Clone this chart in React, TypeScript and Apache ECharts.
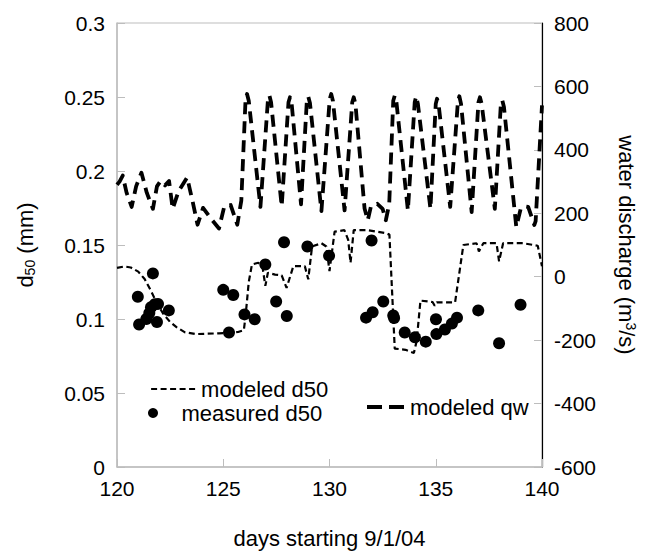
import React, { useEffect, useRef } from "react";
import * as echarts from "echarts";

const FONT = "'Liberation Sans', Arial, Helvetica, sans-serif";

// x-axis ticks (days)
const xTicks = [120, 125, 130, 135, 140];

// modeled water discharge (m3/s)
const qwDays = [
  120.0, 120.12, 120.27, 120.45, 120.69, 120.9, 121.15, 121.4, 121.69, 121.88, 122.05, 122.26, 122.45, 122.62,
  122.9, 123.3, 123.55, 123.79, 124.05, 124.4, 124.8, 125.05, 125.35, 125.66, 125.85,
  126.05, 126.12, 126.2, 126.75, 127.1, 127.17, 127.25, 127.75, 128.07, 128.14, 128.22, 128.66,
  128.93, 129.0, 129.08, 129.62, 130.01, 130.08, 130.16, 130.71, 131.07, 131.14, 131.22,
  131.65, 131.8, 131.95, 132.25, 132.5, 132.65, 132.81,
  133.0, 133.07, 133.15, 133.69, 134.01, 134.08, 134.16, 134.75, 135.0, 135.06, 135.14, 135.68,
  136.04, 136.11, 136.19, 136.69, 137.01, 137.08, 137.16, 137.78, 138.06, 138.13, 138.21,
  138.79, 139.0, 139.18, 139.35, 139.64, 139.7, 140.0,
];
const qwValues = [
  290, 300, 319, 265, 220, 285, 328, 265, 214, 285, 302, 288, 302, 214,
  270, 313, 240, 164, 217, 185, 152, 222, 226, 164, 240,
  560, 576, 555, 220, 555, 572, 550, 222, 550, 566, 545, 228,
  550, 568, 548, 207, 560, 576, 555, 209, 550, 566, 545,
  215, 178, 222, 230, 214, 178, 229,
  555, 571, 550, 209, 550, 569, 545, 214, 545, 561, 540, 220,
  550, 569, 545, 204, 550, 566, 545, 214, 540, 556, 535,
  157, 215, 222, 220, 163, 175, 540,
];

// modeled d50 (mm)
const d50ModDays = [
  120.0, 120.35, 120.65, 121.0, 121.3, 121.6, 121.9, 122.2, 122.5, 122.8, 123.2, 123.7, 124.8, 125.7,
  125.97, 126.05, 126.2, 126.35, 126.65, 126.85, 126.98, 127.1, 127.44, 127.75, 127.98, 128.3,
  128.84, 129.0, 129.18, 129.62, 129.85, 130.0, 130.24, 130.7, 130.88, 130.99, 131.14, 131.8,
  132.65, 132.82, 133.07, 133.58, 133.97, 134.1, 134.28, 134.85, 134.95, 135.05, 135.91, 136.3,
  136.92, 137.03, 137.24, 137.86, 137.98, 138.17, 139.1, 139.8, 140.0,
];
const d50ModValues = [
  0.1345, 0.1355, 0.1348, 0.132, 0.127, 0.119, 0.11, 0.103, 0.098, 0.0945, 0.091, 0.0898, 0.0903, 0.0912,
  0.0925, 0.102, 0.125, 0.1368, 0.138, 0.135, 0.1224, 0.1312, 0.13, 0.1295, 0.121, 0.1357,
  0.1357, 0.1268, 0.149, 0.1512, 0.149, 0.1324, 0.159, 0.16, 0.1535, 0.138, 0.16, 0.16,
  0.158, 0.157, 0.08, 0.0792, 0.077, 0.085, 0.1124, 0.1115, 0.109, 0.1113, 0.1113, 0.15,
  0.1512, 0.1457, 0.1512, 0.1512, 0.139, 0.1512, 0.1512, 0.1495, 0.1357,
];

// measured d50 (mm)
const d50MeasDays = [
  120.98, 121.04, 121.38, 121.52, 121.6, 121.69, 121.78, 121.88, 121.93, 122.44,
  125.0, 125.27, 125.47, 126.0, 126.48, 126.98, 127.49, 127.86, 127.99, 128.96,
  129.98, 131.72, 131.98, 132.03, 132.53, 133.0, 133.04, 133.54, 134.02, 134.53,
  135.01, 135.03, 135.43, 135.76, 136.0, 137.0, 137.98, 138.99,
];
const d50MeasValues = [
  0.115, 0.0963, 0.1, 0.104, 0.108, 0.1308, 0.11, 0.098, 0.1102, 0.1058,
  0.1197, 0.0909, 0.1162, 0.1031, 0.0998, 0.1368, 0.1118, 0.1519, 0.102, 0.149,
  0.1428, 0.1009, 0.153, 0.1046, 0.1118, 0.1024, 0.1006, 0.0909, 0.0876, 0.0847,
  0.0998, 0.0898, 0.0929, 0.0969, 0.1009, 0.1058, 0.0836, 0.1096,
];

const GREY = "#bdbdbd";

export default function App() {
  const ref = useRef<HTMLDivElement>(null);

  useEffect(() => {
    if (!ref.current) return;
    const chart = echarts.init(ref.current, undefined, { renderer: "svg" });
    const labelStyle = { color: "#000", fontSize: 21, fontFamily: FONT };
    const legendText = { color: "#000", fontSize: 22, fontFamily: FONT };
    chart.setOption({
      animation: false,
      backgroundColor: "#fff",
      grid: {
        left: 117,
        right: 100,
        top: 23,
        bottom: 80,
        show: true,
        borderColor: GREY,
        borderWidth: 1,
        containLabel: false,
      },
      xAxis: {
        type: "value",
        min: xTicks[0],
        max: xTicks[xTicks.length - 1],
        interval: 5,
        name: "days starting 9/1/04",
        nameLocation: "middle",
        nameGap: 60,
        nameTextStyle: { color: "#000", fontSize: 22, fontFamily: FONT },
        axisLine: { show: true, lineStyle: { color: GREY, width: 1.5 } },
        axisTick: { show: true, inside: true, length: 8, lineStyle: { color: GREY } },
        axisLabel: { ...labelStyle, margin: 11 },
        splitLine: { show: false },
      },
      yAxis: [
        {
          type: "value",
          min: 0,
          max: 0.3,
          interval: 0.05,
          position: "left",
          name: "{a|d}{s|50}{a| (mm)}",
          nameLocation: "middle",
          nameGap: 80,
          nameTextStyle: {
            color: "#000",
            fontFamily: FONT,
            rich: {
              a: { fontSize: 22, fontFamily: FONT, color: "#000" },
              s: { fontSize: 14, fontFamily: FONT, color: "#000", padding: [10, 0, 0, 0] },
            },
          },
          axisLine: { show: true, lineStyle: { color: GREY, width: 1.5 } },
          axisTick: { show: true, inside: true, length: 8, lineStyle: { color: GREY } },
          axisLabel: { ...labelStyle, margin: 12 },
          splitLine: { show: false },
        },
        {
          type: "value",
          min: -600,
          max: 800,
          interval: 200,
          position: "right",
          name: "{a|water discharge (m}{p|3}{a|/s)}",
          nameLocation: "middle",
          nameRotate: -90,
          nameGap: 72,
          nameTextStyle: {
            color: "#000",
            fontFamily: FONT,
            rich: {
              a: { fontSize: 22, fontFamily: FONT, color: "#000" },
              p: { fontSize: 14, fontFamily: FONT, color: "#000", padding: [0, 0, 10, 0] },
            },
          },
          axisLine: { show: true, lineStyle: { color: "#000", width: 1.2 } },
          axisTick: { show: true, inside: true, length: 8, lineStyle: { color: GREY } },
          axisLabel: { ...labelStyle, margin: 12 },
          splitLine: { show: false },
        },
      ],
      legend: [
        {
          data: [{ name: "modeled d50", itemStyle: { opacity: 0 } }],
          left: 150,
          top: 378,
          padding: 0,
          itemWidth: 45,
          itemHeight: 14,
          textStyle: legendText,
          lineStyle: { width: 2.2, type: [6, 3.5] },
          selectedMode: false,
        },
        {
          data: ["measured d50"],
          left: 148,
          top: 402,
          padding: 0,
          itemWidth: 47,
          itemHeight: 10,
          textStyle: legendText,
          selectedMode: false,
        },
        {
          data: [{ name: "modeled qw", itemStyle: { opacity: 0 } }],
          left: 365,
          top: 396,
          padding: 0,
          itemWidth: 38,
          itemHeight: 14,
          textStyle: legendText,
          lineStyle: { width: 4, type: [15, 7] },
          selectedMode: false,
        },
      ],
      series: [
        {
          name: "modeled qw",
          type: "line",
          yAxisIndex: 1,
          symbol: "none",
          data: qwDays.map((d, i) => [d, qwValues[i]]),
          lineStyle: { color: "#000", width: 3.8, type: [12, 7], join: "round" },
          itemStyle: { color: "#000" },
          z: 2,
        },
        {
          name: "modeled d50",
          type: "line",
          yAxisIndex: 0,
          symbol: "none",
          data: d50ModDays.map((d, i) => [d, d50ModValues[i]]),
          lineStyle: { color: "#000", width: 2.2, type: [6, 3.5] },
          itemStyle: { color: "#000" },
          z: 3,
        },
        {
          name: "measured d50",
          type: "scatter",
          yAxisIndex: 0,
          symbol: "circle",
          symbolSize: 12,
          data: d50MeasDays.map((d, i) => [d, d50MeasValues[i]]),
          itemStyle: { color: "#000", opacity: 1 },
          z: 4,
        },
      ],
    });
    return () => chart.dispose();
  }, []);

  return (
    <div
      ref={ref}
      style={{ position: "fixed", left: 0, top: 0, width: 646, height: 554, background: "#fff" }}
    />
  );
}
